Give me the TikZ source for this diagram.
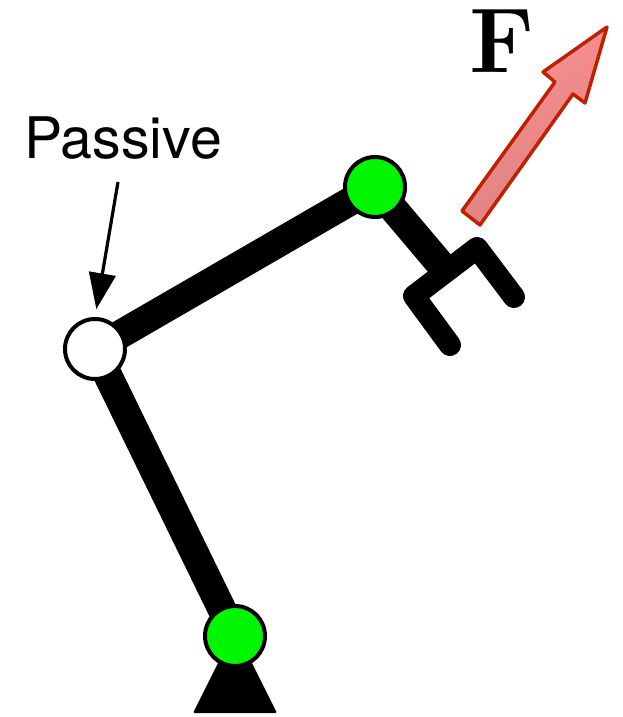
\documentclass[tikz,border=0pt]{standalone}
\usepackage{fontspec}
\newfontfamily\labelfont{TeX Gyre Heros}
\usepackage{tikz}
\usetikzlibrary{arrows.meta,backgrounds}
\definecolor{ink}{HTML}{000000}
\definecolor{jointgreen}{HTML}{00F500}
\definecolor{forcered}{HTML}{C02000}
\tikzset{
  joint/.style={circle,draw=ink,line width=3pt,minimum size=45pt,inner sep=0pt},
  link/.style={line width=21.5pt,ink},
  finger/.style={line width=16.5pt,ink,line cap=round,line join=round},
}
\begin{document}
\begin{tikzpicture}[x=0.75pt,y=-0.75pt,>={Triangle[length=27pt,width=20pt]}]
\useasboundingbox (0,0) rectangle (623,717);
\node[joint,fill=jointgreen] (base) at (235,636) {};
\node[joint,fill=white] (passive) at (95,349) {};
\node[joint,fill=jointgreen] (elbow) at (375,187) {};
\coordinate (palm) at (446,271);
\coordinate (palmleft) at (414,296);
\coordinate (palmright) at (477,248);
\coordinate (tipleft) at (450,345);
\coordinate (tipright) at (514,297);
\coordinate (passivetail) at (118,182);
\node[font=\labelfont\fontsize{43}{43}\selectfont,anchor=base] (passivelabel) at (123,158) {Passive};
\node[font=\fontsize{69}{69}\selectfont\bfseries,anchor=base] (forcelabel) at (502,73) {F};
\begin{scope}[on background layer]
\fill[ink,rounded corners=1pt] (193,713) -- (235,629) -- (277,713) -- cycle;
\draw[link] (base.center) -- (passive.center);
\draw[link] (passive.center) -- (elbow.center);
\draw[link] (elbow.center) -- (palm);
\draw[finger] (tipleft) -- (palmleft) -- (palmright) -- (tipright);
\end{scope}
\draw[->,line width=2.4pt,ink,shorten >=6pt] (passivetail) -- (passive.north);
\shade[draw=forcered,line width=2.6pt,line join=round,top color=red!42!white,bottom color=red!42!white!85!black,shading angle=35]
  (607,27) -- (543,72) -- (555,82) -- (462,211) -- (480,225) -- (573,94) -- (585,103) -- cycle;
\end{tikzpicture}
\end{document}
